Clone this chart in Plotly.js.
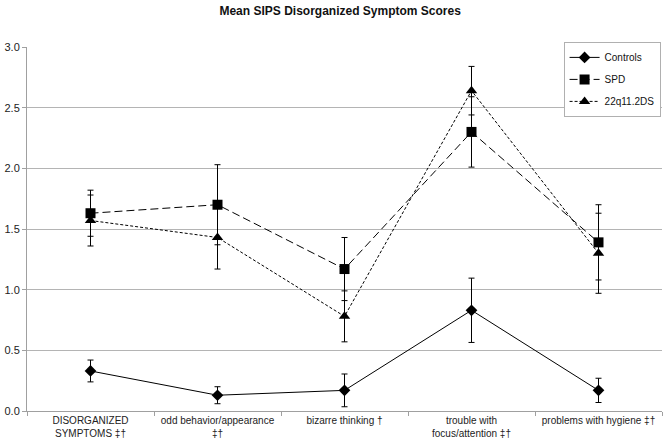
<!DOCTYPE html>
<html>
<head>
<meta charset="utf-8">
<script src="https://cdn.plot.ly/plotly-3.0.1.min.js"></script>
<style>html,body{margin:0;padding:0;background:#fff;}#chart{width:667px;height:448px;}</style>
</head>
<body>
<div id="chart"></div>
<script>
var categories = ["DISORGANIZED<br>SYMPTOMS ‡†", "odd behavior/appearance<br>‡†", "bizarre thinking †", "trouble with<br>focus/attention ‡†", "problems with hygiene ‡†"];
var controlsMean = [0.33, 0.13, 0.17, 0.83, 0.17];
var controlsErr  = [0.09, 0.07, 0.135, 0.265, 0.10];
var spdMean = [1.63, 1.70, 1.17, 2.30, 1.39];
var spdErr  = [0.19, 0.33, 0.26, 0.29, 0.31];
var q22Mean = [1.57, 1.43, 0.78, 2.64, 1.30];
var q22Err  = [0.21, 0.26, 0.21, 0.20, 0.33];
var yTicks = [0, 0.5, 1.0, 1.5, 2.0, 2.5, 3.0];
var yTickText = ["0.0", "0.5", "1.0", "1.5", "2.0", "2.5", "3.0"];

function series(name, y, err, dash, symbol, size) {
  return {
    type: "scatter", mode: "lines+markers", name: name, legendgroup: name,
    x: categories, y: y,
    line: {color: "#000", width: 1, dash: dash},
    marker: {color: "#000", symbol: symbol, size: size},
    error_y: {type: "data", array: err, visible: true, color: "#000", thickness: 1, width: 3}
  };
}
var data = [
  series("Controls", controlsMean, controlsErr, "solid", "diamond", 9),
  series("SPD", spdMean, spdErr, "8px,4px", "square", 10),
  series("22q11.2DS", q22Mean, q22Err, "3px,2px", "triangle-up", 10)
];
var layout = {
  width: 667, height: 448,
  margin: {l: 27, r: 5, t: 47, b: 37},
  paper_bgcolor: "#fff", plot_bgcolor: "#fff",
  font: {family: "Liberation Sans, Arial, sans-serif", color: "#111", size: 10},
  title: {text: "<b>Mean SIPS Disorganized Symptom Scores</b>", x: 0.51, xanchor: "center", y: 0.975, yanchor: "middle",
          font: {size: 12, color: "#111", family: "Liberation Sans, Arial, sans-serif"}},
  showlegend: true,
  legend: {x: 0.845, y: 1.014, xanchor: "left", yanchor: "top", bordercolor: "#b0b0b0", borderwidth: 1,
           bgcolor: "#fff", font: {size: 10}, tracegroupgap: 3, itemwidth: 30},
  xaxis: {type: "category", showgrid: false, zeroline: false, showline: true, linecolor: "#a0a0a0", linewidth: 1,
          ticks: "outside", ticklen: 4, tickcolor: "#a0a0a0", tickson: "boundaries",
          tickfont: {size: 10, color: "#222"}, range: [-0.5, 4.5], tickangle: 0},
  yaxis: {range: [0, 3], tickvals: yTicks, ticktext: yTickText, showgrid: true, gridcolor: "#b4b4b4", gridwidth: 1,
          zeroline: false, showline: true, linecolor: "#a0a0a0", ticks: "outside", ticklen: 4, tickcolor: "#a0a0a0",
          tickfont: {size: 11, color: "#222"}, fixedrange: true}
};
Plotly.newPlot("chart", data, layout, {displayModeBar: false, staticPlot: true});
</script>
</body>
</html>
